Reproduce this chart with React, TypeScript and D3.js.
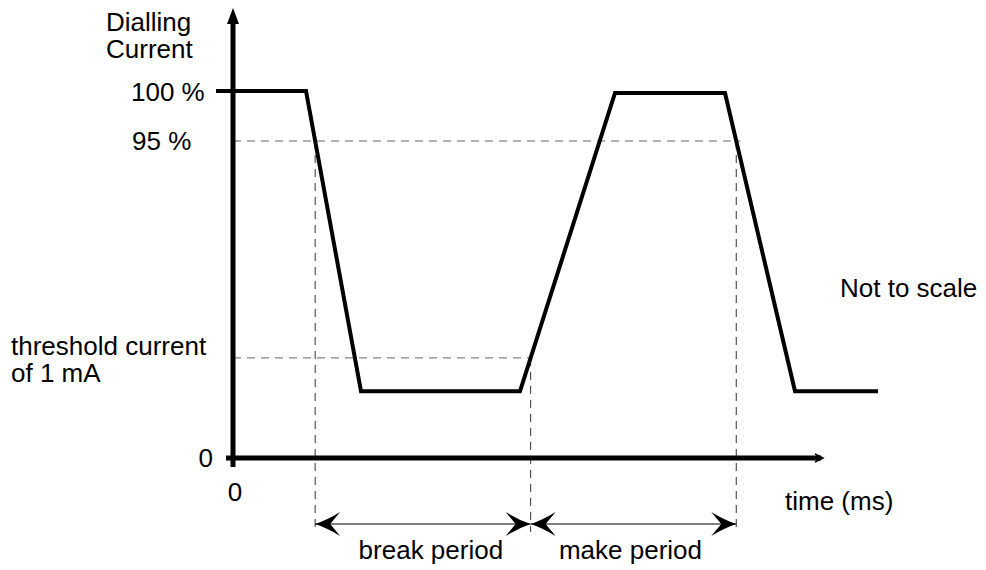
import React from "react";
import { scaleLinear, line } from "d3";

// dialling current waveform (time units are arbitrary, "not to scale")
const times = [0, 73, 128, 287, 382, 492, 562, 645];
const current = [100, 100, 20, 20, 99.8, 99.8, 20, 20];
const levels = { full: 100, ninetyFive: 95, threshold: 30 };
const yTickLabels = ["100 %", "95 %"];
const periodLabels = ["break period", "make period"];

const W = 986;
const H = 570;
const FONT = "'Liberation Sans', Arial, sans-serif";

function Arrow({ x, y, dir }: { x: number; y: number; dir: number }) {
  // notched filled arrowhead, dir = -1 points left, 1 points right
  const L = 25;
  const hw = 12;
  const n = 15;
  const d = `M${x},${y} Q${x - dir * 12},${y - 4} ${x - dir * L},${y - hw} L${x - dir * n},${y} L${x - dir * L},${y + hw} Q${x - dir * 12},${y + 4} ${x},${y} Z`;
  return <path d={d} fill="#000" />;
}

export default function App() {
  const x = scaleLinear().domain([0, 590]).range([233, 823]);
  // piecewise scale: the picture is not to scale
  const y = scaleLinear().domain([0, 95, 100]).range([458, 141, 91]);

  const path = line<number>()
    .x((_, i) => x(times[i]))
    .y((d) => y(d))(current);

  // pixel x where the drawn waveform crosses a level (dir: -1 falling, 1 rising)
  const crossing = (level: number, dir: number, afterPx: number) => {
    const ly = y(level);
    for (let i = 0; i < times.length - 1; i++) {
      const xa = x(times[i]);
      const xb = x(times[i + 1]);
      const ya = y(current[i]);
      const yb = y(current[i + 1]);
      if (xa < afterPx) continue;
      if ((dir < 0 && ya <= ly && yb > ly) || (dir > 0 && ya > ly && yb <= ly)) {
        return xa + ((ly - ya) / (yb - ya)) * (xb - xa);
      }
    }
    return x(0);
  };

  const c95a = crossing(levels.ninetyFive, -1, 0);
  const cThr = crossing(levels.threshold, 1, c95a);
  const c95b = crossing(levels.ninetyFive, -1, cThr);

  const dimY = 524;
  const dashBottom = 532;
  const x0 = x(0);

  return (
    <svg
      width={W}
      height={H}
      style={{ position: "absolute", left: 0, top: 0, background: "#fff" }}
      fontFamily={FONT}
      fontSize={26}
    >
      {/* dashed guide lines */}
      <g stroke="#666" strokeWidth={1} strokeDasharray="8,6" fill="none">
        <line x1={x0} x2={c95b + 4} y1={y(levels.ninetyFive)} y2={y(levels.ninetyFive)} />
        <line x1={x0} x2={cThr} y1={y(levels.threshold)} y2={y(levels.threshold)} />
      </g>
      <g stroke="#333" strokeWidth={1} strokeDasharray="8,6" fill="none">
        <line x1={c95a} x2={c95a} y1={y(levels.ninetyFive)} y2={dashBottom} />
        <line x1={cThr} x2={cThr} y1={y(levels.threshold)} y2={dashBottom} />
        <line x1={c95b} x2={c95b} y1={y(levels.ninetyFive)} y2={dashBottom} />
      </g>

      {/* axes */}
      <line x1={x0} x2={x0} y1={467} y2={18} stroke="#000" strokeWidth={5} />
      <path d={`M${x0},8 L${x0 - 6},24 L${x0 + 6},24 Z`} fill="#000" />
      <line x1={226} x2={x(590) - 2} y1={y(0)} y2={y(0)} stroke="#000" strokeWidth={5} />
      <path
        d={`M${x(590) - 8},${y(0) - 4} L${x(590)},${y(0)} L${x(590) - 8},${y(0) + 4}`}
        stroke="#000"
        strokeWidth={1.5}
        fill="none"
      />
      <line x1={216} x2={x0} y1={y(100)} y2={y(100)} stroke="#000" strokeWidth={4} />

      {/* waveform */}
      <path d={path || ""} fill="none" stroke="#000" strokeWidth={4} strokeLinejoin="miter" />

      {/* period dimension arrows */}
      <g stroke="#000" strokeWidth={1}>
        <line x1={c95a} x2={cThr} y1={dimY} y2={dimY} />
        <line x1={cThr} x2={c95b} y1={dimY} y2={dimY} />
      </g>
      <Arrow x={c95a} y={dimY} dir={-1} />
      <Arrow x={cThr} y={dimY} dir={1} />
      <Arrow x={cThr} y={dimY} dir={-1} />
      <Arrow x={c95b} y={dimY} dir={1} />

      {/* labels */}
      <g fill="#000">
        <text x={106} y={31}>Dialling</text>
        <text x={106} y={58}>Current</text>
        <text x={131} y={101}>{yTickLabels[0]}</text>
        <text x={132} y={150}>{yTickLabels[1]}</text>
        <text x={11} y={355}>threshold current</text>
        <text x={11} y={382}>of 1 mA</text>
        <text x={213} y={467} textAnchor="end">0</text>
        <text x={x0 + 2} y={501} textAnchor="middle">0</text>
        <text x={785} y={510}>time (ms)</text>
        <text x={840} y={297}>Not to scale</text>
        <text x={(c95a + cThr) / 2 + 8} y={559} textAnchor="middle">{periodLabels[0]}</text>
        <text x={(cThr + c95b) / 2 - 3} y={559} textAnchor="middle">{periodLabels[1]}</text>
      </g>
    </svg>
  );
}
